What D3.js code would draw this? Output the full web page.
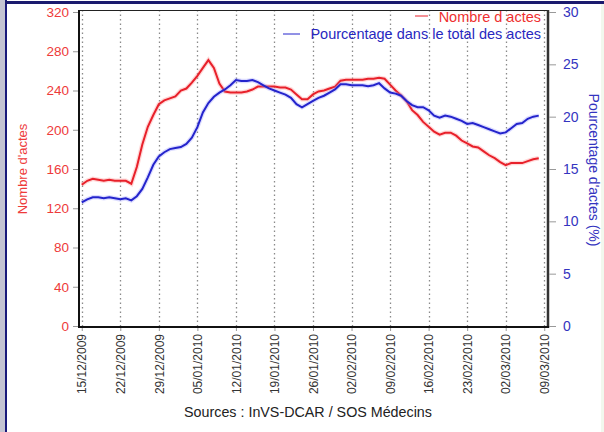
<!DOCTYPE html>
<html><head><meta charset="utf-8">
<script src="https://cdn.jsdelivr.net/npm/d3@7"></script>
<style>body{margin:0;background:#fff;}svg{display:block;}</style>
</head><body>
<svg id="c" width="604" height="432"></svg>
<script>
const startDate = "15/12/2009";
const nombreActes = [144,148,150,149,148,149,148,148,148,145,162,185,203,215,226,230,232,234,240,242,248,255,263,271,263,247,239,238,238,238,239,241,244,244,244,244,243,243,241,236,231,231,236,239,240,242,244,250,251,251,251,251,252,252,253,252,246,240,235,229,220,215,208,203,198,195,197,197,194,189,186,183,182,178,174,171,167,164,166,166,166,168,170,171];
const pourcentage = [11.8,12.1,12.3,12.3,12.2,12.3,12.2,12.1,12.2,12.0,12.4,13.1,14.2,15.4,16.2,16.6,16.9,17.0,17.1,17.4,18.0,19.0,20.4,21.3,21.9,22.3,22.6,23.0,23.5,23.4,23.4,23.5,23.3,23.0,22.7,22.5,22.3,22.1,21.8,21.2,20.9,21.2,21.5,21.8,22.0,22.3,22.6,23.1,23.1,23.0,23.0,23.0,22.9,23.0,23.2,22.7,22.3,22.2,22.0,21.5,21.1,20.9,20.9,20.6,20.1,19.9,20.1,20.0,19.8,19.6,19.3,19.4,19.2,19.0,18.8,18.6,18.4,18.5,18.9,19.3,19.4,19.8,20.0,20.1];
const xTickLabels = ["15/12/2009","22/12/2009","29/12/2009","05/01/2010","12/01/2010","19/01/2010","26/01/2010","02/02/2010","09/02/2010","16/02/2010","23/02/2010","02/03/2010","09/03/2010"];
const leftTicks = [0,40,80,120,160,200,240,280,320];
const rightTicks = [0,5,10,15,20,25,30];
const legendLabels = ["Nombre d actes","Pourcentage dans le total des actes"];

const parse = d3.timeParse("%d/%m/%Y");
const t0 = parse(startDate);
const dates = nombreActes.map((_, i) => d3.timeDay.offset(t0, i));
const tickDates = xTickLabels.map(parse);

const svg = d3.select("#c");
const font = "'Liberation Sans', Arial, sans-serif";
const L = 79, R = 548, T = 10, B = 327;

const x = d3.scaleTime()
  .domain([d3.timeHour.offset(parse("15/12/2009"), -12), d3.timeHour.offset(parse("09/03/2010"), 12)])
  .range([L, 547]);
const yL = d3.scaleLinear().domain([0, 320]).range([326, 12]);
const yR = d3.scaleLinear().domain([0, 30]).range([326, 12]);

// frame decorations
svg.append("rect").attr("x",0).attr("y",0).attr("width",5).attr("height",432).attr("fill","#c4c4d2");
svg.append("rect").attr("x",5).attr("y",0).attr("width",2).attr("height",432).attr("fill","#1a1a7a");
svg.append("rect").attr("x",5).attr("y",1).attr("width",599).attr("height",3).attr("fill","#1a1a6e");
svg.append("rect").attr("x",601).attr("y",4).attr("width",3).attr("height",428).attr("fill","#f2f8ee");

// gridlines
svg.append("g").selectAll("line").data(tickDates).join("line")
  .attr("x1", d => Math.round(x(d)) + 0.5).attr("x2", d => Math.round(x(d)) + 0.5)
  .attr("y1", T).attr("y2", B)
  .attr("stroke", "#8a8a8a").attr("stroke-width", 1.3).attr("stroke-dasharray", "1.5,3");

// plot frame
svg.append("line").attr("x1",L).attr("x2",R).attr("y1",T+0.5).attr("y2",T+0.5).attr("stroke","#222").attr("stroke-width",1);
svg.append("line").attr("x1",R).attr("x2",R).attr("y1",T).attr("y2",B+1).attr("stroke","#333").attr("stroke-width",2.5);

// left axis
const gL = svg.append("g").attr("transform", `translate(${L},0)`)
  .call(d3.axisLeft(yL).tickValues(leftTicks).tickSize(6).tickPadding(4));
gL.select(".domain").remove();
gL.selectAll(".tick line").attr("stroke","#999");
gL.selectAll(".tick text").attr("fill","#ee3a3a").style("font-family",font).style("font-size","13.5px");

// right axis
const gR = svg.append("g").attr("transform", `translate(${R+1},0)`)
  .call(d3.axisRight(yR).tickValues(rightTicks).tickSize(7).tickPadding(7));
gR.select(".domain").remove();
gR.selectAll(".tick line").attr("stroke","#999");
gR.selectAll(".tick text").attr("fill","#3434c0").style("font-family",font).style("font-size","14px");

// bottom axis
const gB = svg.append("g").attr("transform", `translate(0,${B})`)
  .call(d3.axisBottom(x).tickValues(tickDates).tickSize(4).tickFormat((d,i) => xTickLabels[i]));
gB.select(".domain").remove();
gB.selectAll(".tick line").attr("stroke","#999");
gB.selectAll(".tick text")
  .attr("transform","rotate(-90)").attr("text-anchor","end")
  .attr("x",-7).attr("y",0).attr("dy","0.35em")
  .attr("fill","#333").style("font-family",font).style("font-size","12px");

svg.append("line").attr("x1",L).attr("x2",L).attr("y1",T).attr("y2",B+1).attr("stroke","#111").attr("stroke-width",2);
svg.append("line").attr("x1",L-1).attr("x2",R+1).attr("y1",B).attr("y2",B).attr("stroke","#111").attr("stroke-width",2);

// lines
const lineL = d3.line().x((d,i) => x(dates[i])).y(d => yL(d));
const lineR = d3.line().x((d,i) => x(dates[i])).y(d => yR(d));
svg.append("path").datum(nombreActes).attr("d", lineL).attr("fill","none")
  .attr("stroke","#ff9090").attr("stroke-opacity",0.35).attr("stroke-width",4.5);
svg.append("path").datum(nombreActes).attr("d", lineL).attr("fill","none")
  .attr("stroke","#e8202a").attr("stroke-width",2);
svg.append("path").datum(pourcentage).attr("d", lineR).attr("fill","none")
  .attr("stroke","#9090ff").attr("stroke-opacity",0.3).attr("stroke-width",4.5);
svg.append("path").datum(pourcentage).attr("d", lineR).attr("fill","none")
  .attr("stroke","#2424cc").attr("stroke-width",2);

// legend
const lg = svg.append("g");
lg.append("line").attr("x1",415).attr("x2",428).attr("y1",16).attr("y2",16).attr("stroke","#e8202a").attr("stroke-width",1);
lg.append("text").attr("x",541).attr("y",22).attr("text-anchor","end").attr("fill","#ee3030")
  .style("font-family",font).style("font-size","14.5px").text(legendLabels[0]);
lg.append("line").attr("x1",283).attr("x2",300).attr("y1",34).attr("y2",34).attr("stroke","#2424cc").attr("stroke-width",1);
lg.append("text").attr("x",541).attr("y",39).attr("text-anchor","end").attr("fill","#2828c0")
  .style("font-family",font).style("font-size","14.5px").text(legendLabels[1]);

// axis titles
svg.append("text").attr("transform","translate(22,169) rotate(-90)").attr("text-anchor","middle")
  .attr("dy","0.35em").attr("fill","#ee3a3a").style("font-family",font).style("font-size","13px").text("Nombre d'actes");
svg.append("text").attr("transform","translate(594,170) rotate(90)").attr("text-anchor","middle")
  .attr("dy","0.35em").attr("fill","#3434c0").style("font-family",font).style("font-size","14px").text("Pourcentage d'actes (%)");

svg.append("text").attr("x",308).attr("y",417).attr("text-anchor","middle").attr("fill","#222")
  .style("font-family",font).style("font-size","14.3px").text("Sources : InVS-DCAR / SOS Médecins");
</script>
</body></html>
